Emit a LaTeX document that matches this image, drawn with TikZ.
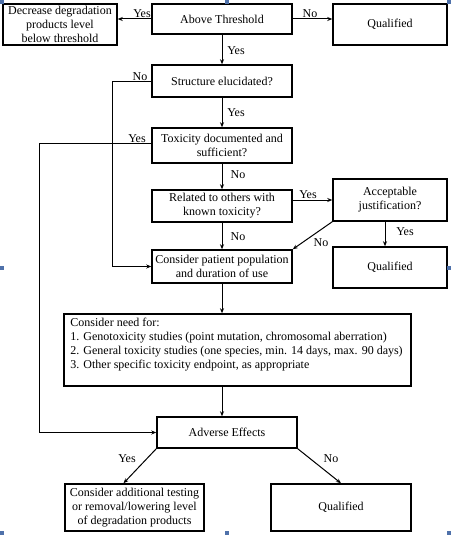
\documentclass[tikz,border=0pt]{standalone}
\usepackage{fontspec}
\setmainfont{Liberation Serif}
\usetikzlibrary{arrows.meta}
\definecolor{handleblue}{RGB}{79,113,170}
\begin{document}
\begin{tikzpicture}[x=1pt,y=-1pt,
  box/.style={draw, line width=1.5pt, align=center, inner sep=0pt, font=\fontsize{12}{14}\selectfont},
  conn/.style={line width=1pt, -{Stealth[length=5pt,width=4pt]}},
  lbl/.style={font=\fontsize{12}{14}\selectfont, inner sep=0pt},
  handle/.style={fill=handleblue, draw=none}]
\useasboundingbox (0,0) rectangle (451,535);
% boxes
\node[box, minimum width=114pt, minimum height=41pt] (dec) at (60,24.5) {Decrease degradation\\products level\\below threshold};
\node[box, minimum width=140pt, minimum height=30pt] (above) at (222,19) {Above Threshold};
\node[box, minimum width=114pt, minimum height=41pt] (q1) at (390,24.5) {Qualified};
\node[box, minimum width=140pt, minimum height=32pt] (struct) at (222,81) {Structure elucidated?};
\node[box, minimum width=140pt, minimum height=35pt] (tox) at (222,145.5) {Toxicity documented and\\sufficient?};
\node[box, minimum width=140pt, minimum height=32pt] (rel) at (222,206) {Related to others with\\known toxicity?};
\node[box, minimum width=114pt, minimum height=42pt] (acc) at (390,200) {Acceptable\\justification?};
\node[box, minimum width=114pt, minimum height=41pt] (q2) at (390,267.5) {Qualified};
\node[box, minimum width=140pt, minimum height=33pt] (pat) at (222,266.5) {Consider patient population\\and duration of use};
\node[box, minimum width=347pt, minimum height=72pt] (need) at (237.5,350) {};
\node[lbl, align=left, anchor=north west] (needtext) at ([xshift=7pt,yshift=-4.5pt]need.north west)
  {Consider need for:\\1. Genotoxicity studies (point mutation, chromosomal aberration)\\2. General toxicity studies (one species, min. 14 days, max. 90 days)\\3. Other specific toxicity endpoint, as appropriate};
\node[box, minimum width=140pt, minimum height=31pt] (adv) at (227,432.5) {Adverse Effects};
\node[box, minimum width=139pt, minimum height=47pt] (add) at (134.5,507.5) {Consider additional testing\\or removal/lowering level\\of degradation products};
\node[box, minimum width=140pt, minimum height=47pt] (q3) at (341,507.5) {Qualified};
% corners
\coordinate (nocol) at (112,0);
\coordinate (yescol) at (39,0);
% connectors
\draw[conn] (above.west) -- (above.west -| dec.east);
\draw[conn] (above.east) -- (above.east -| q1.west);
\draw[conn] (above.south) -- (struct.north);
\draw[conn] (struct.west) -- (struct.west -| nocol) |- (pat.west);
\draw[conn] (struct.south) -- (tox.north);
\draw[conn] ([yshift=2pt]tox.west) -- ([yshift=2pt]tox.west -| yescol) |- (adv.west);
\draw[conn] (tox.south) -- (rel.north);
\draw[conn] ([yshift=6pt]rel.east) -- ([yshift=6pt]rel.east -| acc.west);
\draw[conn] ([xshift=-5pt]acc.south) -- ([xshift=-5pt]q2.north);
\draw[conn] (acc.south west) -- (pat.north east);
\draw[conn] (rel.south) -- (pat.north);
\draw[conn] (pat.south) -- (pat.south |- need.north);
\draw[conn] (pat.south |- need.south) -- (pat.south |- adv.north);
\draw[conn] (adv.south west) -- ([xshift=-11pt]add.north);
\draw[conn] (adv.south east) -- (q3.north);
% labels
\node[lbl] (l1) at (142,14) {Yes};
\node[lbl] (l2) at (310,14) {No};
\node[lbl] (l3) at (236,51) {Yes};
\node[lbl] (l4) at (140,77) {No};
\node[lbl] (l5) at (236,113) {Yes};
\node[lbl] (l6) at (137,139) {Yes};
\node[lbl] (l7) at (238,175) {No};
\node[lbl] (l8) at (308,195) {Yes};
\node[lbl] (l9) at (405,232) {Yes};
\node[lbl] (l10) at (238,237) {No};
\node[lbl] (l11) at (321,243) {No};
\node[lbl] (l12) at (127,459) {Yes};
\node[lbl] (l13) at (331,459) {No};
% selection handles
\foreach \hx/\hy in {0/0,225/0,447/0,0/266,447/266,0/531,225/531,447/531}
  \fill[handle] (\hx,\hy) rectangle ++(4,4);
\end{tikzpicture}
\end{document}
